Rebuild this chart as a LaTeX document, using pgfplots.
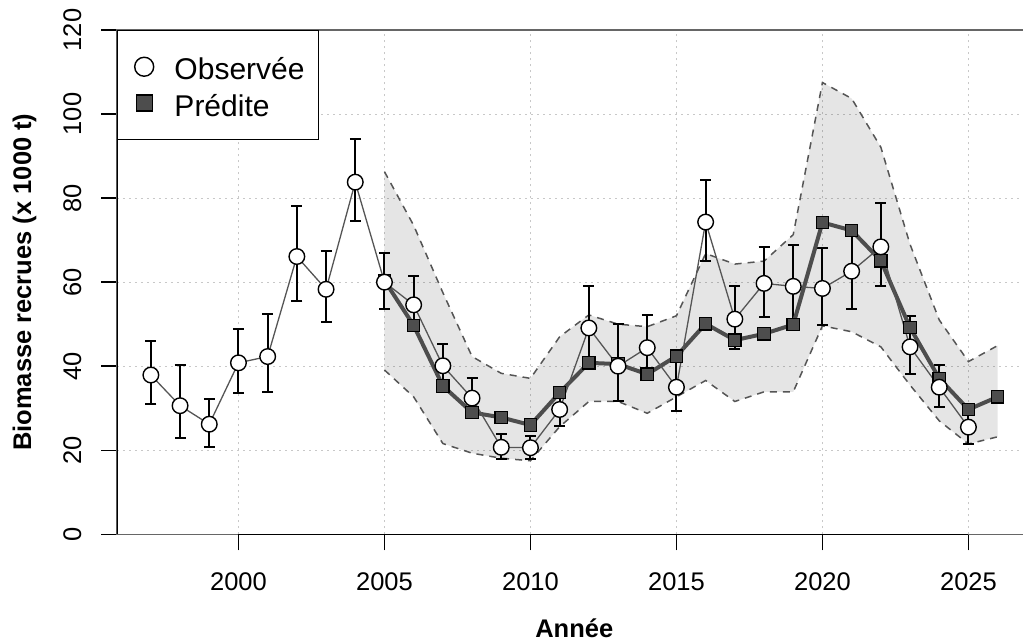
\documentclass[border=0pt]{standalone}
\usepackage{pgfplots}
\pgfplotsset{compat=1.18}
\usepackage{fontspec}
\setmainfont{Liberation Sans}
\definecolor{dk}{HTML}{4D4D4D}
\definecolor{ln}{HTML}{555555}
\definecolor{gridc}{HTML}{C8C8C8}
\definecolor{boxc}{HTML}{666666}

\pgfplotstableread{
yr v ep em
1997 37.9 8.2 7.0
1998 30.6 9.8 7.8
1999 26.2 6.1 5.4
2000 40.8 8.1 7.1
2001 42.3 10.1 8.4
2002 66.1 12.0 10.7
2003 58.3 9.0 7.9
2004 83.8 10.2 9.3
2005 60.0 6.9 6.4
2006 54.6 6.8 6.1
2007 40.1 5.2 5.1
2008 32.4 4.7 4.4
2009 20.7 3.2 2.7
2010 20.6 2.8 2.8
2011 29.7 3.8 3.9
2012 49.1 9.9 9.1
2013 40.0 10.1 8.4
2014 44.4 7.7 6.9
2015 35.0 6.5 5.7
2016 74.3 10.1 9.3
2017 51.2 7.9 7.0
2018 59.7 8.7 7.9
2019 59.0 9.9 9.5
2020 58.5 9.7 8.8
2021 62.6 9.4 8.9
2022 68.4 10.5 9.4
2023 44.6 7.3 6.5
2024 35.0 5.2 4.7
2025 25.5 4.0 3.9
}\obs

\pgfplotstableread{
yr p lo hi
2005 60.4 39.1 86.3
2006 49.7 32.7 73.5
2007 35.3 21.6 57.5
2008 29.0 19.3 42.3
2009 27.8 18.1 38.3
2010 26.0 17.5 37.1
2011 33.7 25.6 47.0
2012 40.8 31.6 52.2
2013 40.5 31.6 50.0
2014 38.1 28.8 49.4
2015 42.4 32.7 52.0
2016 50.1 36.6 66.8
2017 46.2 31.6 64.3
2018 47.7 33.9 65.0
2019 49.9 33.9 71.3
2020 74.2 49.6 107.5
2021 72.3 48.2 103.7
2022 65.1 44.6 92.1
2023 49.2 35.5 69.0
2024 37.1 27.0 51.0
2025 29.7 21.5 41.1
2026 32.7 23.2 44.9
}\pred

\begin{document}
\begin{tikzpicture}
\useasboundingbox (-58.5pt,-53.85pt) rectangle (453pt,267.15pt);
\clip (-58.5pt,-53.85pt) rectangle (453pt,267.15pt);
\begin{axis}[
  at={(0pt,0pt)}, anchor=south west, scale only axis,
  width=457.25pt, height=252.15pt,
  xmin=1995.84, xmax=2027.16, ymin=0, ymax=120,
  xtick={2000,2005,...,2025}, ytick={0,20,...,120},
  tick align=outside, xtick pos=bottom, ytick pos=left,
  major tick length=8pt,
  tick style={black, line width=0.7pt},
  axis line style={boxc, line width=0.6pt},
  grid=major,
  major grid style={gridc, dash pattern=on 1pt off 2pt, line width=0.5pt},
  /pgf/number format/1000 sep={},
  /pgf/number format/assume math mode=true,
  ticklabel style={font=\fontsize{12.75}{15}\selectfont},
  xticklabel style={anchor=base, inner sep=0pt},
  yticklabel style={rotate=90, anchor=base, inner sep=0pt},
  xticklabel shift=19.85pt,
  yticklabel shift=9.9pt,
  xlabel={Année},
  ylabel={Biomasse recrues (x 1000 t)},
  label style={font=\fontsize{12.75}{15}\selectfont\bfseries},
  xlabel style={at={([yshift=-51.35pt]axis description cs:0.5,0)}, anchor=base, inner sep=0pt},
  ylabel style={at={([xshift=-42.95pt]axis description cs:0,0.5)}, anchor=base, inner sep=0pt},
  legend cell align=left,
  legend style={at={(0,1)}, anchor=north west, draw=black, line width=0.6pt, fill=white,
    inner xsep=0pt, inner ysep=10pt, row sep=2pt, column sep=0pt,
    font=\fontsize{15}{18}\selectfont, nodes={inner sep=0pt}},
  legend image code/.code={\path (-13pt,0pt) (14.85pt,0pt); \draw[#1] plot coordinates {(0pt,0pt)};},
]
% band
\addplot[fill=black, fill opacity=0.1, draw=none, forget plot] coordinates {
(2005,86.3) (2006,73.5) (2007,57.5) (2008,42.3) (2009,38.3) (2010,37.1) (2011,47.0)
(2012,52.2) (2013,50.0) (2014,49.4) (2015,52.0) (2016,66.8) (2017,64.3) (2018,65.0)
(2019,71.3) (2020,107.5) (2021,103.7) (2022,92.1) (2023,69.0) (2024,51.0) (2025,41.1) (2026,44.9)
(2026,23.2) (2025,21.5) (2024,27.0) (2023,35.5) (2022,44.6) (2021,48.2) (2020,49.6)
(2019,33.9) (2018,33.9) (2017,31.6) (2016,36.6) (2015,32.7) (2014,28.8) (2013,31.6)
(2012,31.6) (2011,25.6) (2010,17.5) (2009,18.1) (2008,19.3) (2007,21.6) (2006,32.7) (2005,39.1)
} -- cycle;
\addplot[ln, line width=0.75pt, dash pattern=on 3.5pt off 3pt, forget plot] table[x=yr, y=hi] {\pred};
\addplot[ln, line width=0.75pt, dash pattern=on 3.5pt off 3pt, forget plot] table[x=yr, y=lo] {\pred};
% error bars
\addplot[draw=none, mark=none, forget plot,
  error bars/.cd, y dir=both, y explicit,
  error bar style={black, line width=1pt, solid},
  error mark options={black, line width=1pt, mark size=2.75pt, rotate=90}]
  table[x=yr, y=v, y error plus=ep, y error minus=em] {\obs};
% predicted
\addplot[dk, line width=2pt, mark=square*, mark size=3.1pt,
  mark options={fill=dk, draw=black, line width=0.6pt, solid}, forget plot]
  table[x=yr, y=p] {\pred};
% observed
\addplot[ln, line width=0.65pt, mark=*, mark size=3.9pt,
  mark options={fill=white, draw=black, line width=0.7pt, solid}, forget plot]
  table[x=yr, y=v] {\obs};
% R-style axis lines
\draw[black, line width=0.7pt] (axis cs:1995.84,0) -- (axis cs:1995.84,120);
\draw[black, line width=0.7pt] (axis cs:2000,0) -- (axis cs:2025,0);
% legend
\addlegendimage{only marks, mark=*, mark size=4.75pt, mark options={fill=white, draw=black, line width=0.7pt}}
\addlegendentry{\makebox[72.15pt][l]{\rule[-3.85pt]{0pt}{18.5pt}Observée}}
\addlegendimage{only marks, mark=square*, mark size=4pt, mark options={fill=dk, draw=black, line width=0.7pt}}
\addlegendentry{\makebox[72.15pt][l]{\rule[-3.85pt]{0pt}{18.5pt}Prédite}}
\end{axis}
\end{tikzpicture}
\end{document}
